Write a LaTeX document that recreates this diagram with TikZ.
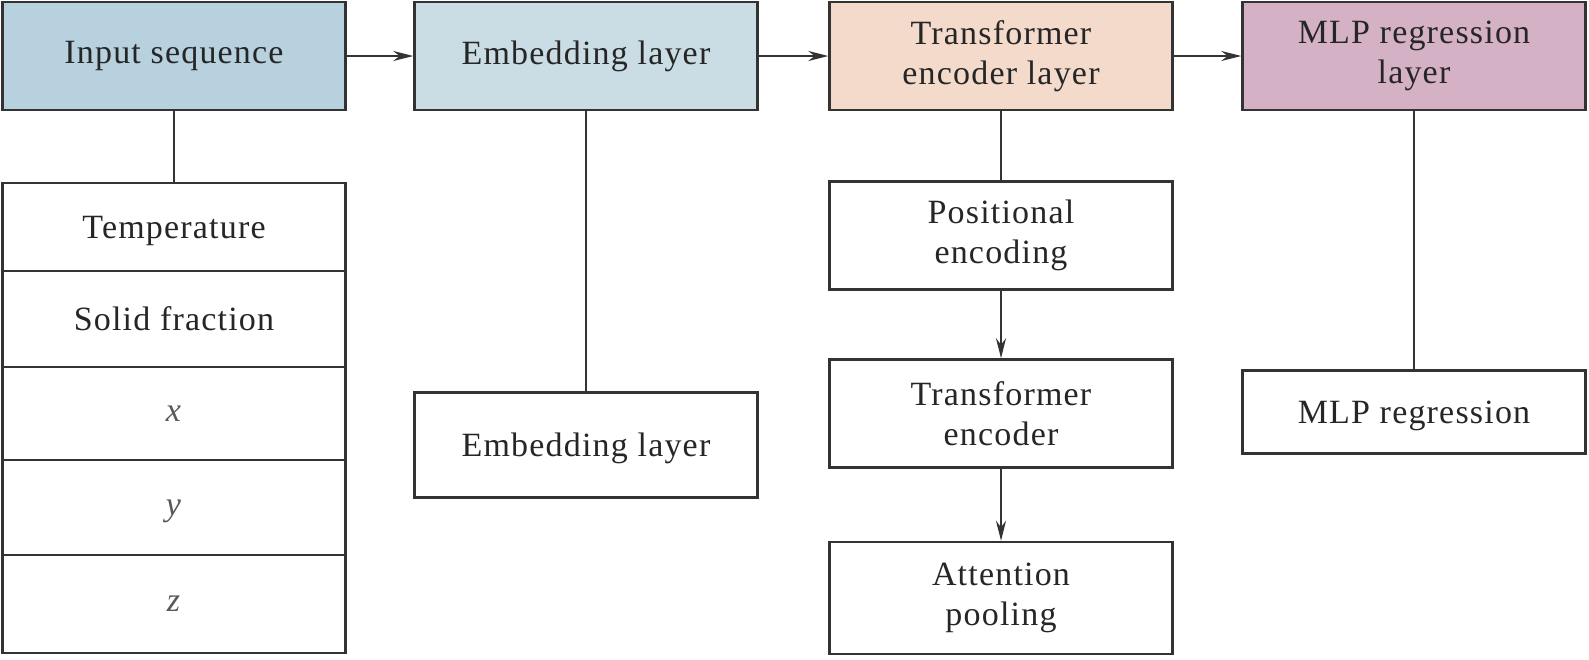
\documentclass[tikz,border=0pt]{standalone}
\usepackage{fontspec}
\setmainfont[LetterSpace=3.5]{Liberation Serif}
\usetikzlibrary{positioning}
\usetikzlibrary{arrows.meta}
\definecolor{linegray}{RGB}{51,51,51}
\definecolor{inblue}{RGB}{183,209,222}
\definecolor{embblue}{RGB}{202,221,228}
\definecolor{tfpeach}{RGB}{243,218,203}
\definecolor{mlpmauve}{RGB}{213,177,198}
\tikzset{
	layer/.style={draw=linegray, line width=2.5pt, minimum width=343pt, minimum height=108pt,
		inner sep=0pt, align=center, text=black!85, font=\fontsize{34}{40}\selectfont},
	cell/.style={layer, fill=white},
	row/.style={cell, text depth=0pt},
	link/.style={draw=linegray, line width=2pt},
	flow/.style={link, -{Stealth[length=20pt,width=10pt]}},
}

\begin{document}
\begin{tikzpicture}[x=1pt,y=-1pt]
	\useasboundingbox (0,0) rectangle (1589,659);

	% top row of layers..........................
	\node [layer, fill=inblue] (inseq) at (174,56) {Input sequence};
	\node [layer, fill=embblue] (embed) at (586,56) {Embedding layer};
	\node [layer, fill=tfpeach] (trans) at (1001,56) {Transformer\\encoder layer};
	\node [layer, fill=mlpmauve] (mlp) at (1414,56) {MLP regression\\layer};

	% input variables...........................
	\node [row, minimum height=88pt] (temp) at (174,227) {Temperature};
	\node [row, minimum height=96pt] (solid) at (174,319) {Solid fraction};
	\node [row, minimum height=93pt, text=black!65] (xvar) at (174,413.5) {\textit{x}};
	\node [row, minimum height=95pt, text=black!65] (yvar) at (174,507.5) {\textit{y}};
	\node [row, minimum height=98pt, text=black!65] (zvar) at (174,604) {\textit{z}};

	% embedding block..........................
	\node [row, minimum height=105pt] (embbox) at (586,445) {Embedding layer};

	% transformer blocks.......................
	\node [cell] (posenc) at (1001,235.5) {Positional\\encoding};
	\node [cell] (tenc) at (1001,413.5) {Transformer\\encoder};
	\node [cell, minimum height=112pt] (attpool) at (1001,598) {Attention\\pooling};

	% regression block.........................
	\node [row, minimum height=83pt] (mlpreg) at (1414,412) {MLP regression};

	% arrows between layers....................
	\draw [flow] (inseq) to (embed);
	\draw [flow] (embed) to (trans);
	\draw [flow] (trans) to (mlp);

	% lines down to the blocks.................
	\draw [link] (inseq) to (temp);
	\draw [link] (embed) to (embbox);
	\draw [link] (trans) to (posenc);
	\draw [link] (mlp) to (mlpreg);

	% arrows inside the transformer...........
	\draw [flow] (posenc) to (tenc);
	\draw [flow] (tenc) to (attpool);
\end{tikzpicture}
\end{document}
